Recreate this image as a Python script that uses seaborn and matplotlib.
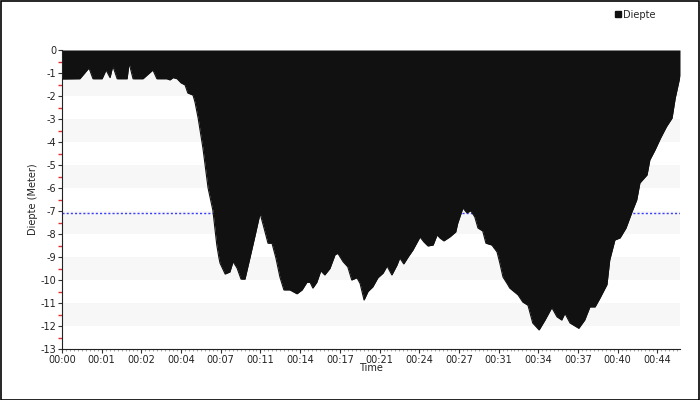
import matplotlib
matplotlib.use("Agg")
import matplotlib.pyplot as plt
import matplotlib.patches as mpatches
from matplotlib.lines import Line2D
from matplotlib.ticker import MultipleLocator
import pandas as pd
import seaborn as sns

# sample number along the dive and depth in metres
sample = [0, 4.5, 6.8, 7.8, 10.1, 11.1, 12.1, 12.8, 13.9, 16.4, 16.9, 17.9, 20.4, 22.9, 23.9,
          26.4, 27.2, 28.0, 29.0, 30.0, 31.0, 31.7, 33.0, 33.5, 34.3, 35.5, 36.8, 38.0, 39.0,
          39.5, 39.8, 41.1, 42.3, 43.1, 44.1, 45.1, 46.1, 47.4, 48.6, 49.9, 50.9, 51.9, 52.9,
          53.9, 54.9, 55.9, 57.4, 59.2, 60.5, 61.7, 62.5, 63.2, 64.2, 65.2, 66.2, 67.5, 68.8,
          69.5, 70.8, 72.0, 73.0, 74.3, 75.1, 76.1, 77.1, 78.3, 79.6, 80.9, 81.9, 83.1, 84.4,
          85.1, 86.1, 87.2, 88.4, 90.2, 91.2, 92.2, 93.5, 94.5, 95.2, 96.2, 97.7, 99.2, 99.7,
          101.0, 102.0, 103.0, 104.0, 104.8, 106.0, 106.8, 108.3, 109.6, 110.3, 111.1, 112.3,
          112.8, 114.9, 116.1, 117.4, 118.6, 120.2, 121.7, 123.4, 124.7, 125.9, 126.7, 128.0,
          130.2, 131.7, 133.0, 134.3, 135.5, 137.3, 138.0, 139.3, 140.6, 142.1, 143.6, 144.8,
          145.6, 147.4, 148.1, 149.4, 150.8, 152.3, 153.7, 154.5, 155.5, 155.7]
depth = [-1.26, -1.25, -0.78, -1.25, -1.25, -0.87, -1.2, -0.7, -1.25, -1.25, -0.57, -1.25,
         -1.25, -0.87, -1.25, -1.25, -1.3, -1.2, -1.25, -1.43, -1.52, -1.87, -1.96, -2.26,
         -2.96, -4.26, -6.0, -6.96, -8.48, -9.0, -9.26, -9.74, -9.65, -9.2, -9.48, -9.96,
         -9.96, -9.0, -8.1, -7.1, -7.74, -8.4, -8.4, -9.05, -9.87, -10.43, -10.43, -10.6,
         -10.43, -10.1, -10.1, -10.35, -10.1, -9.6, -9.78, -9.5, -8.9, -8.84, -9.2, -9.43,
         -10.0, -9.9, -10.15, -10.87, -10.5, -10.3, -9.9, -9.7, -9.39, -9.78, -9.35, -9.04,
         -9.3, -9.0, -8.7, -8.13, -8.35, -8.52, -8.48, -8.04, -8.17, -8.3, -8.13, -7.91,
         -7.53, -6.87, -7.08, -6.99, -7.26, -7.74, -7.87, -8.4, -8.48, -8.78, -9.26, -9.87,
         -10.2, -10.35, -10.65, -10.96, -11.1, -11.87, -12.17, -11.74, -11.2, -11.6, -11.74,
         -11.45, -11.87, -12.1, -11.74, -11.17, -11.17, -10.8, -10.2, -9.13, -8.26, -8.17,
         -7.74, -7.04, -6.52, -5.78, -5.43, -4.78, -4.35, -3.83, -3.33, -2.96, -2.09, -1.3,
         -1.1]

tick_samples = [0, 10, 20, 30, 40, 50, 60, 70, 80, 90, 100, 110, 120, 130, 140, 150]
tick_labels = ["00:00", "00:01", "00:02", "00:04", "00:07", "00:11", "00:14", "00:17",
               "00:21", "00:24", "00:27", "00:31", "00:34", "00:37", "00:40", "00:44"]
band_tops = [-1, -3, -5, -7, -9, -11]
ref_depth = -7.1

df = pd.DataFrame({"sample": sample, "depth": depth})

sns.set_theme(style="white")
plt.rcParams["font.family"] = ["DejaVu Sans"]

fig = plt.figure(figsize=(7, 4), dpi=100)
fig.patches.append(mpatches.Rectangle((0.001, 0.001), 0.997, 0.996, transform=fig.transFigure,
                                      fill=False, edgecolor="black", linewidth=1.2))
ax = fig.add_axes([62 / 700, 51 / 400, 618 / 700, 299 / 400])

for top in band_tops:
    ax.axhspan(top - 1, top, color="#f7f7f7", zorder=0, lw=0)
ax.axhline(ref_depth, color="#3b3bff", linestyle=(0, (1.5, 1.5)), linewidth=1, zorder=1)

ax.fill_between(df["sample"], df["depth"], 0, color="#111111", linewidth=0, zorder=2)
sns.lineplot(data=df, x="sample", y="depth", ax=ax, color="#111111", linewidth=0.8, zorder=3)

ax.set_xlim(0, sample[-1])
ax.set_ylim(-13, 0)
ax.set_xticks(tick_samples)
ax.set_xticklabels(tick_labels)
ax.xaxis.set_minor_locator(MultipleLocator(1))
ax.set_yticks(range(-13, 1))
ax.set_yticklabels([str(v) for v in range(-13, 1)])
ax.yaxis.set_minor_locator(MultipleLocator(0.5))

ax.tick_params(axis="both", which="major", direction="out", length=3, width=0.8,
               color="#333333", labelsize=7, pad=1, labelcolor="#222222")
ax.tick_params(axis="x", which="minor", direction="out", length=1.5, width=0.6, color="#999999")
ax.tick_params(axis="y", which="minor", direction="out", length=3, width=1, color="#e03030")
ax.tick_params(axis="x", which="both", bottom=True)
ax.tick_params(axis="y", which="both", left=True)

for side in ["top", "right"]:
    ax.spines[side].set_visible(False)
for side in ["left", "bottom"]:
    ax.spines[side].set_color("#222222")
    ax.spines[side].set_linewidth(0.8)

ax.set_xlabel("Time", fontsize=7, labelpad=-1, color="#222222")
ax.set_ylabel("Diepte (Meter)", fontsize=7, labelpad=2, color="#222222")

handle = Line2D([], [], marker="s", color="none", markerfacecolor="#111111",
                markeredgecolor="#111111", markersize=5)
fig.legend([handle], ["Diepte"], loc="center left", bbox_to_anchor=(0.865, 0.963),
           frameon=False, fontsize=7, handletextpad=0.1, handlelength=0.8)

fig.savefig("out.png", dpi=100)
